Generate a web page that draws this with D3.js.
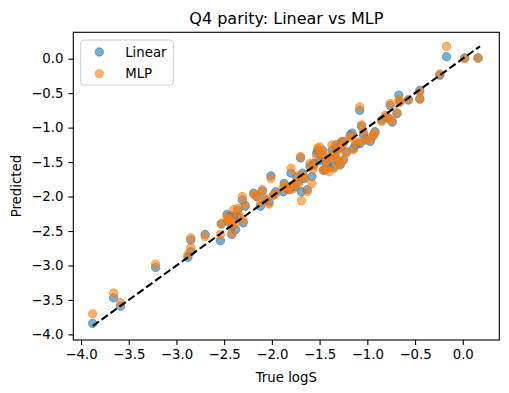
<!DOCTYPE html>
<html>
<head>
<meta charset="utf-8">
<script src="https://cdn.jsdelivr.net/npm/d3@7"></script>
<style>
    body { margin: 0; background: #ffffff; }
    #chart-area { width: 509px; height: 393px; }
    text { font-family: "DejaVu Sans", sans-serif; fill: #000; }
</style>
</head>
<body>
<div id="chart-area"></div>
<script>

// true solubility (x) and the two model predictions
const trueLogS = [
    -3.878, -3.658, -3.585, -3.218, -2.88, -2.85, -2.85, -2.70, -2.54, -2.53,
    -2.47, -2.46, -2.44, -2.43, -2.42, -2.42, -2.40, -2.38, -2.36, -2.35,
    -2.31, -2.30, -2.28, -2.19, -2.12, -2.10, -2.07, -2.03, -2.01, -1.98,
    -1.96, -1.87, -1.84, -1.82, -1.80, -1.78, -1.76, -1.72, -1.70, -1.69,
    -1.68, -1.66, -1.63, -1.58, -1.57, -1.56, -1.53, -1.50, -1.48, -1.46,
    -1.44, -1.42, -1.40, -1.37, -1.35, -1.34, -1.32, -1.30, -1.285, -1.27,
    -1.25, -1.25, -1.22, -1.18, -1.16, -1.145, -1.12, -1.08, -1.075, -1.06,
    -1.04, -1.02, -0.97, -0.94, -0.92, -0.85, -0.81, -0.78, -0.76, -0.74,
    -0.69, -0.67, -0.66, -0.57, -0.45, -0.45, -0.24, -0.17, 0.02, 0.16,
    -1.52, -1.47, -1.43, -1.38, -1.33, -1.28, -1.60, -1.74, -1.88, -2.16
];

const linearPred = [
    -3.84, -3.47, -3.59, -3.03, -2.88, -2.80, -2.63, -2.55, -2.64, -2.40,
    -2.26, -2.36, -2.33, -2.28, -2.43, -2.55, -2.30, -2.48, -2.20, -2.30,
    -2.05, -2.38, -2.14, -1.95, -2.14, -1.92, -2.05, -2.08, -1.70, -1.97,
    -1.93, -1.81, -1.88, -1.90, -1.66, -1.84, -1.86, -1.78, -1.44, -1.93,
    -1.66, -1.74, -1.90, -1.71, -1.54, -1.52, -1.37, -1.48, -1.40, -1.62,
    -1.61, -1.45, -1.58, -1.33, -1.57, -1.40, -1.30, -1.49, -1.54, -1.22,
    -1.20, -1.47, -1.35, -1.11, -1.08, -1.30, -1.25, -0.75, -1.23, -0.98,
    -1.10, -1.17, -1.20, -1.12, -1.06, -0.89, -0.85, -0.86, -0.68, -0.92,
    -0.80, -0.53, -0.63, -0.60, -0.46, -0.58, -0.24, 0.03, 0.01, 0.01,
    -1.33, -1.33, -1.52, -1.45, -1.25, -1.29, -1.56, -1.72, -1.93, -2.00
];

const mlpPred = [
    -3.70, -3.40, -3.54, -2.98, -2.84, -2.74, -2.60, -2.58, -2.55, -2.39,
    -2.30, -2.33, -2.36, -2.32, -2.40, -2.53, -2.19, -2.40, -2.17, -2.26,
    -2.00, -2.34, -2.12, -1.97, -2.08, -1.90, -2.02, -2.11, -1.74, -1.98,
    -1.95, -1.84, -1.90, -1.86, -1.59, -1.89, -1.81, -1.81, -1.42, -2.06,
    -1.69, -1.72, -1.93, -1.81, -1.60, -1.55, -1.42, -1.28, -1.37, -1.61,
    -1.60, -1.46, -1.64, -1.25, -1.59, -1.42, -1.34, -1.49, -1.54, -1.20,
    -1.23, -1.47, -1.37, -1.14, -1.12, -1.32, -1.22, -0.70, -1.20, -0.96,
    -1.06, -1.18, -1.18, -1.11, -1.08, -0.91, -0.82, -0.87, -0.65, -0.90,
    -0.78, -0.60, -0.63, -0.59, -0.49, -0.59, -0.22, 0.18, 0.00, 0.01,
    -1.30, -1.36, -1.49, -1.40, -1.27, -1.30, -1.52, -1.70, -1.87, -1.98
];

const seriesNames = ["Linear", "MLP"];
const seriesColors = ["#1f77b4", "#ff7f0e"];
const tickValues = [-4.0, -3.5, -3.0, -2.5, -2.0, -1.5, -1.0, -0.5, 0.0];


/* * * * * * * * * * * * * *
*        ParityVis         *
* * * * * * * * * * * * * */

class ParityVis {

    constructor(parentElement, trueVals, predSets) {
        this.parentElement = parentElement;
        this.trueVals = trueVals;
        this.predSets = predSets;

        this.initVis();
    }

    initVis() {
        let vis = this;

        vis.outerWidth = 509;
        vis.outerHeight = 393;
        vis.margin = {top: 32.3, right: 9.7, bottom: 53, left: 73.3};
        vis.width = vis.outerWidth - vis.margin.left - vis.margin.right;
        vis.height = vis.outerHeight - vis.margin.top - vis.margin.bottom;

        vis.svg = d3.select("#" + vis.parentElement).append("svg")
            .attr("width", vis.outerWidth)
            .attr("height", vis.outerHeight);

        vis.svg.append("rect")
            .attr("width", vis.outerWidth)
            .attr("height", vis.outerHeight)
            .attr("fill", "#ffffff");

        vis.g = vis.svg.append("g")
            .attr("transform", `translate(${vis.margin.left}, ${vis.margin.top})`);

        // identity line spans the min/max of everything plotted
        let all = vis.trueVals.concat(...vis.predSets);
        vis.lims = [d3.min(all), d3.max(all)];

        // matplotlib style 5% padding
        let pad = (vis.lims[1] - vis.lims[0]) * 0.05;

        vis.x = d3.scaleLinear()
            .domain([vis.lims[0] - pad, vis.lims[1] + pad])
            .range([0, vis.width]);

        vis.y = d3.scaleLinear()
            .domain([vis.lims[0] - pad, vis.lims[1] + pad])
            .range([vis.height, 0]);

        vis.updateVis();
    }

    updateVis() {
        let vis = this;

        // scatter points, one group per model
        vis.predSets.forEach((preds, i) => {
            let pts = vis.trueVals.map((t, j) => ({x: t, y: preds[j]}));
            vis.g.append("g")
                .attr("class", "series series-" + i)
                .selectAll("circle")
                .data(pts)
                .enter().append("circle")
                .attr("cx", d => vis.x(d.x))
                .attr("cy", d => vis.y(d.y))
                .attr("r", 4.2)
                .attr("fill", seriesColors[i])
                .attr("fill-opacity", 0.6)
                .attr("stroke", seriesColors[i])
                .attr("stroke-opacity", 0.6)
                .attr("stroke-width", 1);
        });

        // dashed y = x line
        vis.g.append("line")
            .attr("x1", vis.x(vis.lims[0]))
            .attr("y1", vis.y(vis.lims[0]))
            .attr("x2", vis.x(vis.lims[1]))
            .attr("y2", vis.y(vis.lims[1]))
            .attr("stroke", "#000")
            .attr("stroke-width", 2.08)
            .attr("stroke-dasharray", "7.7,3.3");

        // axes
        let fmt = d3.format(".1f");

        vis.xAxis = vis.g.append("g")
            .attr("class", "x-axis")
            .attr("transform", `translate(0, ${vis.height})`)
            .call(d3.axisBottom(vis.x).tickValues(tickValues).tickFormat(fmt).tickSize(4.9).tickPadding(4.9));

        vis.yAxis = vis.g.append("g")
            .attr("class", "y-axis")
            .call(d3.axisLeft(vis.y).tickValues(tickValues).tickFormat(fmt).tickSize(4.9).tickPadding(4.9));

        vis.g.selectAll(".x-axis .domain, .y-axis .domain").remove();
        vis.g.selectAll(".tick line").attr("stroke", "#000").attr("stroke-width", 1.1);
        vis.g.selectAll(".tick text")
            .attr("font-size", "13.3px")
            .attr("font-family", "DejaVu Sans")
            .attr("fill", "#000");

        // frame
        vis.g.append("rect")
            .attr("width", vis.width)
            .attr("height", vis.height)
            .attr("fill", "none")
            .attr("stroke", "#000")
            .attr("stroke-width", 1.1);

        // title and labels
        vis.svg.append("text")
            .text("Q4 parity: Linear vs MLP")
            .attr("x", vis.margin.left + vis.width / 2)
            .attr("y", vis.margin.top - 8.3)
            .attr("text-anchor", "middle")
            .attr("font-size", "16px");

        vis.svg.append("text")
            .text("True logS")
            .attr("x", vis.margin.left + vis.width / 2)
            .attr("y", 381.5)
            .attr("text-anchor", "middle")
            .attr("font-size", "13.3px");

        vis.svg.append("text")
            .text("Predicted")
            .attr("transform", `translate(21, ${vis.margin.top + vis.height / 2}) rotate(-90)`)
            .attr("text-anchor", "middle")
            .attr("font-size", "13.3px");

        // legend
        vis.legend = vis.g.append("g")
            .attr("class", "legend")
            .attr("transform", "translate(7.4, 7.7)");

        vis.legend.append("rect")
            .attr("width", 92.6)
            .attr("height", 45)
            .attr("rx", 3)
            .attr("fill", "#ffffff")
            .attr("fill-opacity", 0.8)
            .attr("stroke", "#cccccc")
            .attr("stroke-width", 1);

        seriesNames.forEach((name, i) => {
            let row = vis.legend.append("g")
                .attr("transform", `translate(0, ${12 + i * 21.6})`);
            row.append("circle")
                .attr("cx", 18.6)
                .attr("cy", 0)
                .attr("r", 4.2)
                .attr("fill", seriesColors[i])
                .attr("fill-opacity", 0.6)
                .attr("stroke", seriesColors[i])
                .attr("stroke-opacity", 0.6)
                .attr("stroke-width", 1);
            row.append("text")
                .text(name)
                .attr("x", 44.5)
                .attr("y", 0)
                .attr("dy", "0.35em")
                .attr("font-size", "13.3px");
        });
    }
}

new ParityVis("chart-area", trueLogS, [linearPred, mlpPred]);

</script>
</body>
</html>
